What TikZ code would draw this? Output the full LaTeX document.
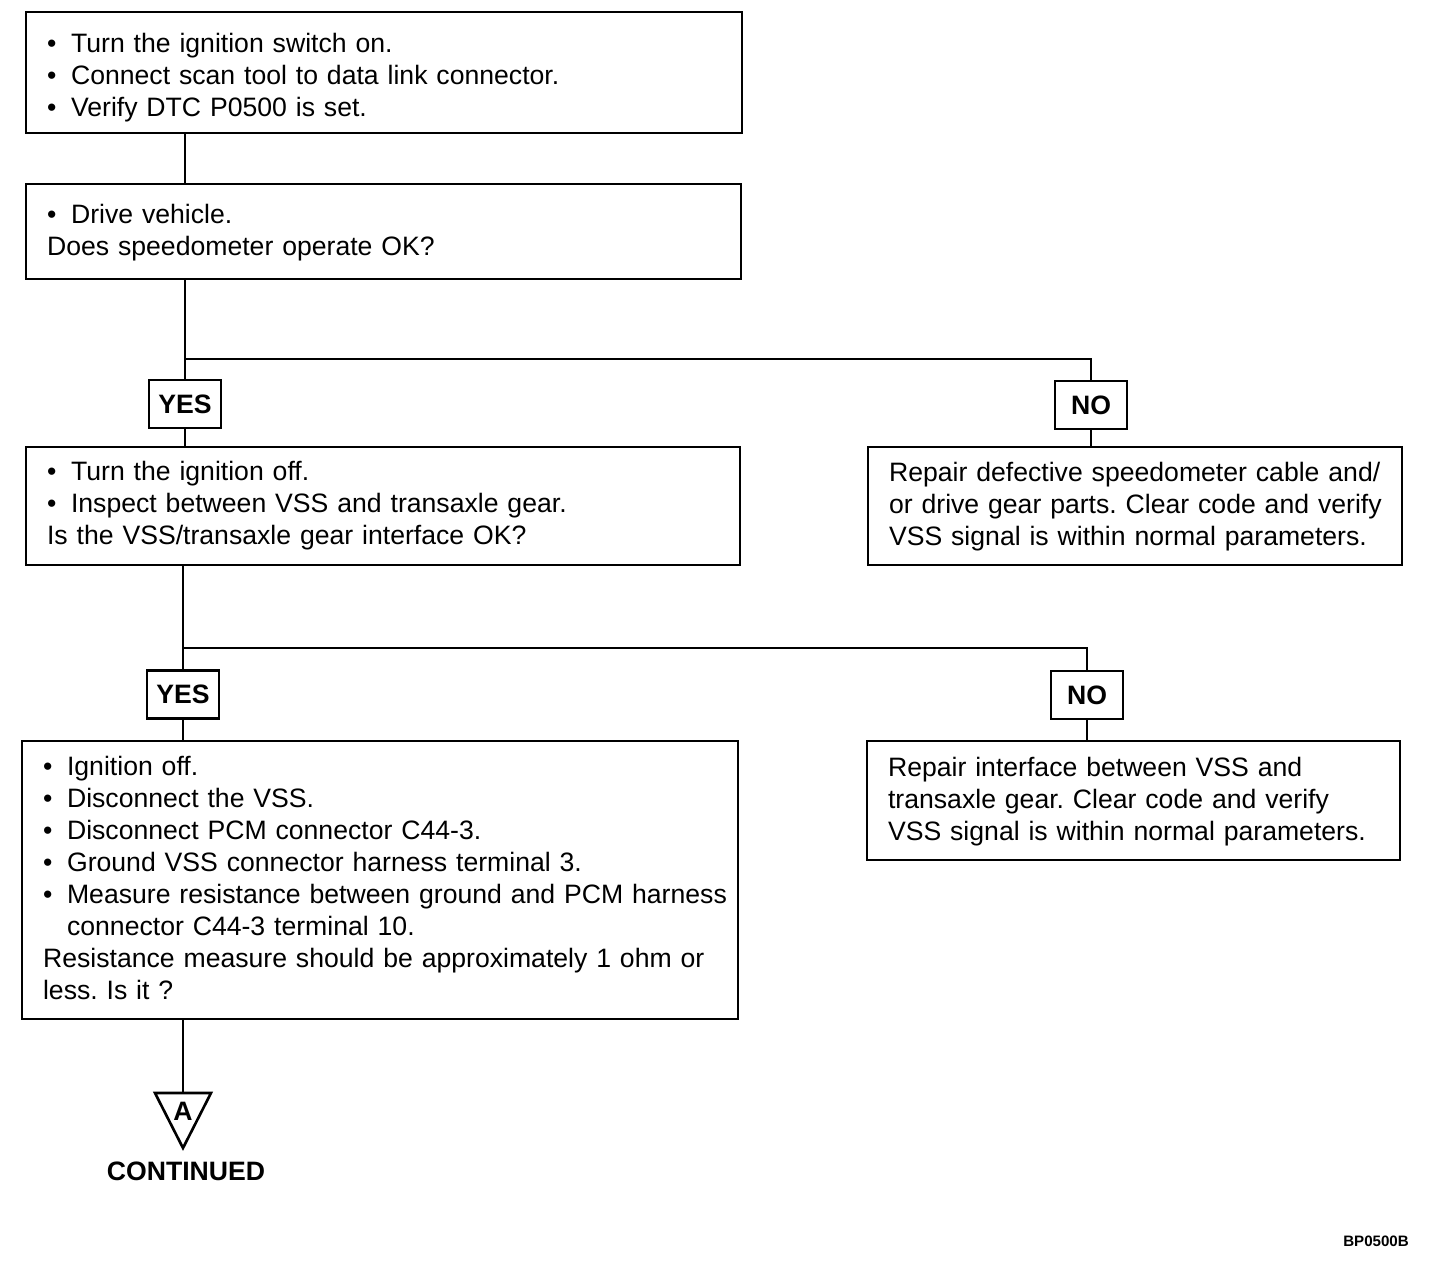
\documentclass[tikz,border=0pt]{standalone}
\usepackage{fontspec}
\setmainfont{Liberation Sans}
\usetikzlibrary{positioning}
\setlength{\parindent}{0pt}
\setlength{\parskip}{0pt}
\frenchspacing
\newcommand{\bitem}[1]{\par\leftskip=0.34cm\hangindent=0.48cm\hangafter=1\noindent\makebox[0.48cm][l]{\textbullet}#1}
\newcommand{\btext}[1]{\par\leftskip=0.34cm\noindent #1}
\newcommand{\lift}[1]{\par\kern#1}

\begin{document}
\begin{tikzpicture}[x=0.02cm,y=-0.02cm]
\tikzset{
  stepbox/.style={draw,line width=1.5pt,inner xsep=0.08cm,inner ysep=0pt,align=left,
    font=\fontsize{15.15}{18.2}\selectfont},
  ansbox/.style={draw,line width=1.5pt,inner sep=0pt,minimum width=1.44cm,minimum height=0.96cm,
    font=\fontsize{15.15}{18.2}\selectfont\bfseries},
  link/.style={line width=1.5pt}
}
\useasboundingbox (0,0) rectangle (1456,1264);

% left column
\node[stepbox,text width=14.16cm,minimum height=2.42cm] (b1) at (384,72.5) {%
\bitem{Turn the ignition switch on.}
\bitem{Connect scan tool to data link connector.}
\bitem{Verify DTC P0500 is set.}\lift{0.04cm}};
\node[stepbox,text width=14.14cm,minimum height=1.9cm] (b2) at (383.5,231.5) {%
\bitem{Drive vehicle.}
\btext{Does speedometer operate OK?}\lift{0.2cm}};
\node[stepbox,text width=14.12cm,minimum height=2.36cm] (b3) at (383,506) {%
\bitem{Turn the ignition off.}
\bitem{Inspect between VSS and transaxle gear.}
\btext{Is the VSS/transaxle gear interface OK?}\lift{0.28cm}};
\node[stepbox,text width=14.16cm,minimum height=5.56cm] (b5) at (380,880) {%
\bitem{Ignition off.}
\bitem{Disconnect the VSS.}
\bitem{Disconnect PCM connector C44-3.}
\bitem{Ground VSS connector harness terminal 3.}
\bitem{Measure resistance between ground and PCM harness\newline connector C44-3 terminal 10.}
\btext{Resistance measure should be approximately 1 ohm or\newline less. Is it ?}\lift{0.32cm}};

% right column
\node[stepbox,text width=10.52cm,minimum height=2.36cm] (b4) at (1135,506) {%
\btext{Repair defective speedometer cable and/\newline or drive gear parts. Clear code and verify\newline VSS signal is within normal parameters.}\lift{0.24cm}};
\node[stepbox,text width=10.5cm,minimum height=2.38cm] (b6) at (1133.5,800.5) {%
\btext{Repair interface between VSS and\newline transaxle gear. Clear code and verify\newline VSS signal is within normal parameters.}\lift{0.2cm}};

% answers
\node[ansbox] (yes1) at (185,404) {YES};
\node[ansbox] (no1) at (1091,405) {NO};
\node[ansbox] (yes2) at (183,694.5) {YES};
\node[ansbox] (no2) at (1087,695) {NO};
\coordinate (j1) at (185,359);
\coordinate (j2) at (183,648);

\draw[link] (b1.south -| j1) -- (b2.north -| j1);
\draw[link] (b2.south -| j1) -- (yes1.north);
\draw[link] (j1) -| (no1.north);
\draw[link] (yes1.south) -- (yes1 |- b3.north);
\draw[link] (no1.south) -- (no1 |- b4.north);
\draw[link] (b3.south -| j2) -- (yes2.north);
\draw[link] (j2) -| (no2.north);
\draw[link] (yes2.south) -- (yes2 |- b5.north);
\draw[link] (no2.south) -- (no2 |- b6.north);

% continued marker
\coordinate (tri) at (183,1093);
\draw[link] (b5.south -| tri) -- (tri);
\draw[link] (155,1093) -- (211,1093) -- (183,1148) -- cycle;
\node[font=\fontsize{15.15}{18}\selectfont\bfseries] (conA) at (183,1111) {A};
\node[font=\fontsize{15.15}{18}\selectfont\bfseries] (cont) at (186,1171) {CONTINUED};
\node[font=\fontsize{8.6}{10}\selectfont\bfseries] (code) at (1376,1241) {BP0500B};
\end{tikzpicture}
\end{document}
